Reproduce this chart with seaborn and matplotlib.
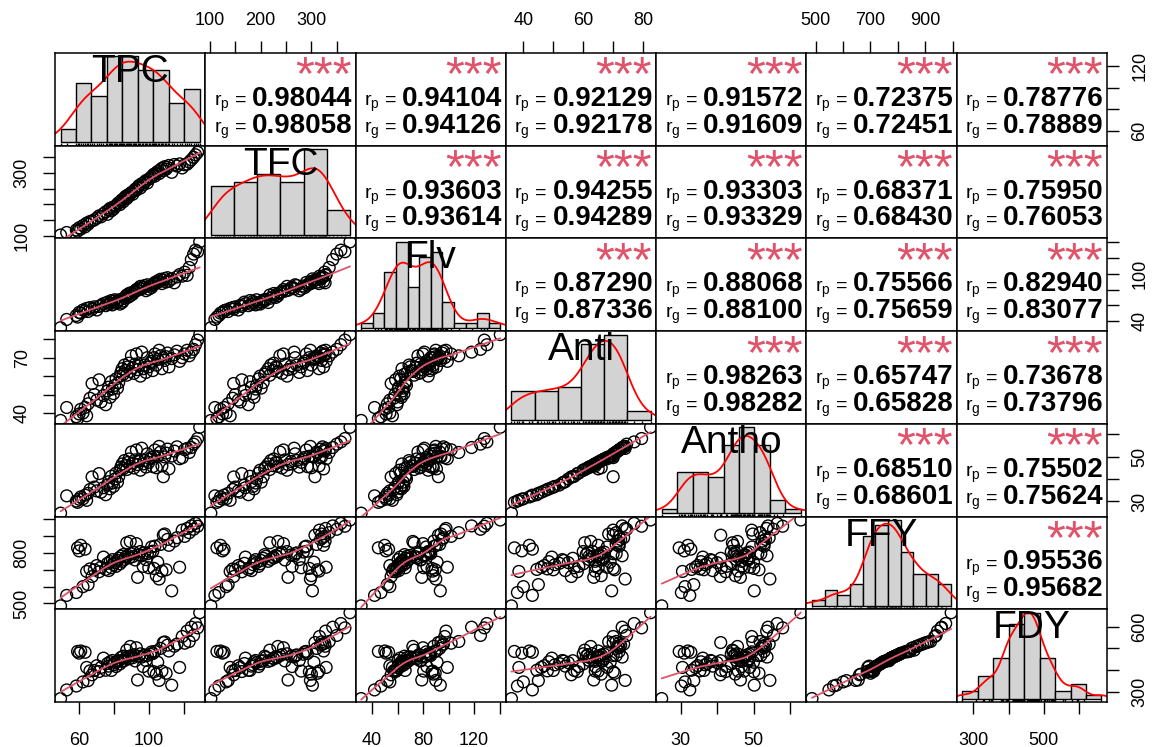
import numpy as np
import pandas as pd
import matplotlib
matplotlib.use("Agg")
import matplotlib.pyplot as plt
import seaborn as sns

variables = ["TPC", "TFC", "Flv", "Anti", "Antho", "FFY", "FDY"]

tpc = [49.5, 53.0, 58.5, 59.2, 60.1, 61.0, 62.3, 63.5, 64.4, 65.2,
       66.3, 67.5, 68.8, 70.2, 71.5, 72.6, 74.0, 75.3, 76.3, 77.0,
       77.8, 78.5, 79.1, 79.8, 80.5, 81.2, 82.0, 82.7, 83.4, 84.0,
       84.7, 85.3, 86.0, 86.6, 87.3, 88.0, 88.6, 89.3, 90.0, 90.7,
       91.4, 92.1, 92.8, 93.5, 94.3, 95.1, 95.9, 96.7, 97.5, 98.3,
       99.1, 99.9, 100.7, 101.5, 102.2, 102.8, 103.4, 104.2, 105.0, 105.8,
       106.6, 107.4, 108.2, 109.0, 109.8, 110.6, 111.4, 113.0, 114.5, 116.0,
       117.5, 119.0, 120.4, 121.8, 123.0, 124.2, 125.5, 126.6, 127.8, 129.0]
tfc = [102, 110, 118, 114, 125, 121, 132, 128, 140, 136,
       145, 147, 150, 156, 163, 160, 170, 176, 168, 182,
       187, 179, 190, 185, 192, 196, 201, 205, 199, 210,
       215, 208, 220, 225, 218, 230, 226, 234, 238, 232,
       242, 248, 245, 254, 260, 252, 266, 262, 271, 276,
       268, 280, 284, 287, 292, 296, 290, 300, 305, 298,
       310, 315, 307, 320, 312, 318, 324, 302, 327, 322,
       329, 316, 326, 328, 335, 342, 350, 358, 366, 376]
flv = [31.5, 42, 47, 45, 51, 50, 54, 53, 56, 52,
       57, 55, 58, 54, 58.5, 60, 62, 59.5, 64, 61,
       63, 66, 60.5, 65, 67, 62.5, 64.5, 66.5, 61.5, 67.5,
       63.5, 65.5, 69, 71, 73, 70, 75, 72, 76, 74,
       77, 78, 80, 79, 82, 84, 81, 83, 85, 78.5,
       86, 80.5, 84.5, 82.5, 85.5, 87, 89, 88, 91, 90,
       93, 87.5, 92, 94, 89.5, 95, 90.5, 93.5, 88.5, 96,
       99, 97, 102, 98, 108, 118, 125, 130, 128, 140.5]
anti = [36.0, 43, 38, 37, 39.5, 42, 40, 43, 38.5, 45,
        48, 56, 50, 47, 58, 46, 49.5, 44.5, 52, 54,
        48.5, 57, 53, 50.5, 55, 58.5, 53.5, 56.5, 60, 62,
        64, 61, 66, 63, 60.5, 65, 67, 62.5, 71, 64.5,
        61.5, 66.5, 72, 63.5, 65.5, 60, 73, 64, 66, 62,
        70, 65, 67, 68, 63, 70, 72, 66, 69, 74,
        71, 64, 70, 68.5, 70.5, 72.5, 65, 69.5, 71.5, 73.5,
        68, 70, 72, 74, 71, 73, 74.5, 77, 79.5, 82.5]
antho = [24.8, 32.5, 30.2, 29.6, 31.0, 32.0, 31.2, 32.8, 30.5, 33.6,
         35.3, 40.9, 36.4, 34.7, 42.4, 34.1, 36.1, 33.0, 37.3, 38.8,
         35.6, 41.2, 38.2, 36.7, 40.0, 42.6, 38.6, 41.0, 43.9, 45.3,
         46.7, 44.6, 48.2, 45.9, 44.2, 47.4, 48.9, 45.6, 52.0, 47.1,
         44.9, 48.5, 52.9, 46.4, 47.8, 43.9, 53.7, 46.7, 48.2, 45.3,
         51.2, 47.4, 48.9, 49.6, 45.5, 50.1, 52.9, 45.0, 50.0, 54.5,
         52.0, 45.8, 41.0, 49.8, 51.5, 53.3, 44.5, 50.2, 52.4, 54.3,
         49.0, 49.5, 53.0, 53.6, 51.8, 54.0, 55.5, 56.5, 58.0, 63.0]
ffy = [486, 548, 565, 830, 812, 845, 600, 822, 690, 612,
       705, 660, 700, 725, 688, 715, 775, 702, 738, 695,
       748, 712, 760, 730, 742, 720, 755, 768, 735, 780,
       750, 790, 762, 775, 860, 785, 770, 868, 795, 778,
       802, 758, 855, 655, 788, 808, 783, 720, 800, 760,
       795, 712, 805, 835, 810, 708, 840, 665, 745, 645,
       850, 692, 905, 912, 700, 880, 845, 575, 870, 890,
       715, 935, 898, 945, 920, 960, 940, 975, 958, 995]
fdy = [268, 308, 326, 486, 478, 488, 345, 482, 412, 351,
       396, 378, 398, 420, 393, 412, 455, 399, 430, 418,
       438, 398, 444, 424, 434, 416, 441, 443, 428, 458,
       440, 464, 444, 455, 492, 461, 452, 509, 467, 457,
       471, 442, 503, 354, 463, 475, 460, 416, 470, 444,
       467, 395, 473, 484, 476, 392, 486, 381, 436, 352,
       500, 395, 527, 530, 385, 515, 488, 330, 510, 520,
       412, 555, 524, 580, 532, 598, 560, 615, 595, 665]

# phenotypic / genotypic correlations, upper triangle row by row
rp_values = [0.98044, 0.94104, 0.92129, 0.91572, 0.72375, 0.78776,
             0.93603, 0.94255, 0.93303, 0.68371, 0.75950,
             0.87290, 0.88068, 0.75566, 0.82940,
             0.98263, 0.65747, 0.73678,
             0.68510, 0.75502,
             0.95536]
rg_values = [0.98058, 0.94126, 0.92178, 0.91609, 0.72451, 0.78889,
             0.93614, 0.94289, 0.93329, 0.68430, 0.76053,
             0.87336, 0.88100, 0.75659, 0.83077,
             0.98282, 0.65828, 0.73796,
             0.68601, 0.75624,
             0.95682]
signif = ["***"] * 21

ticks = {
    "TPC": [60, 80, 100, 120],
    "TFC": [100, 150, 200, 250, 300, 350],
    "Flv": [40, 60, 80, 100, 120, 140],
    "Anti": [40, 50, 60, 70, 80],
    "Antho": [30, 40, 50, 60],
    "FFY": [500, 600, 700, 800, 900, 1000],
    "FDY": [300, 400, 500, 600],
}
bottom_labels = {
    "TPC": ["60", "", "100", ""],
    "Flv": ["40", "", "80", "", "120", ""],
    "Antho": ["30", "", "50", ""],
    "FDY": ["300", "", "500", ""],
}
top_labels = {
    "TFC": ["100", "", "200", "", "300", ""],
    "Anti": ["40", "", "60", "", "80"],
    "FFY": ["500", "", "700", "", "900", ""],
}
left_labels = {
    "TFC": ["100", "", "", "", "300", ""],
    "Anti": ["40", "", "", "70", ""],
    "FFY": ["500", "", "", "800", "", ""],
}
right_labels = {
    "TPC": ["60", "", "", "120"],
    "Flv": ["40", "", "", "100", "", ""],
    "Antho": ["30", "", "50", ""],
    "FDY": ["300", "", "", "600"],
}
hist_bins = {"TPC": 9, "TFC": 6, "Flv": 12, "Anti": 6, "Antho": 9, "FFY": 11, "FDY": 9}

df = pd.DataFrame(dict(zip(variables, [tpc, tfc, flv, anti, antho, ffy, fdy])))

SMOOTH_COL = "#DF536B"


def lowess(x, y, f=2 / 3, iters=3):
    order = np.argsort(x)
    x = np.asarray(x, float)[order]
    y = np.asarray(y, float)[order]
    n = len(x)
    r = max(min(int(f * n + 1e-7), n), 2)
    h = np.array([np.sort(np.abs(x - x[i]))[r - 1] for i in range(n)])
    w = np.clip(np.abs(x[:, None] - x[None, :]) / h[None, :], 0, 1)
    w = (1 - w ** 3) ** 3
    yest = np.zeros(n)
    delta = np.ones(n)
    for _ in range(iters + 1):
        for i in range(n):
            wt = delta * w[:, i]
            A = np.array([[wt.sum(), (wt * x).sum()], [(wt * x).sum(), (wt * x * x).sum()]])
            b = np.array([(wt * y).sum(), (wt * y * x).sum()])
            beta = np.linalg.lstsq(A, b, rcond=None)[0]
            yest[i] = beta[0] + beta[1] * x[i]
        res = y - yest
        s = np.median(np.abs(res))
        delta = np.clip(res / (6 * s), -1, 1)
        delta = (1 - delta ** 2) ** 2
    return x, yest


def padded(v):
    lo, hi = df[v].min(), df[v].max()
    d = (hi - lo) * 0.04
    return lo - d, hi + d


sns.set_style("white")
plt.rcParams["font.family"] = ["Liberation Sans", "DejaVu Sans"]
plt.rcParams["axes.linewidth"] = 1.1
plt.rcParams["axes.edgecolor"] = "black"
plt.rcParams["text.color"] = "black"
plt.rcParams["xtick.color"] = "black"
plt.rcParams["ytick.color"] = "black"

n = len(variables)
fig, axes = plt.subplots(n, n, figsize=(11.64, 7.47), dpi=100,
                         gridspec_kw=dict(wspace=0, hspace=0))
fig.subplots_adjust(left=55 / 1164, right=1107 / 1164, bottom=1 - 702 / 747, top=1 - 53 / 747)

tick_kw = dict(length=8.5, width=1.0, color="black", labelcolor="black", labelsize=13)

k = 0
for i, vy in enumerate(variables):
    for j, vx in enumerate(variables):
        ax = axes[i, j]
        twin = None
        if i == j and j == n - 1:
            twin = ax.twinx()
        ax.tick_params(which="both", left=False, right=False, top=False, bottom=False,
                       labelleft=False, labelright=False, labeltop=False, labelbottom=False)

        if i > j:
            sns.scatterplot(x=df[vx], y=df[vy], ax=ax, marker="o", s=72,
                            color="none", edgecolor="black", linewidth=1.0, legend=False)
            lx, ly = lowess(df[vx].values, df[vy].values)
            ax.plot(lx, ly, color=SMOOTH_COL, lw=1.3)
            ax.set_xlim(padded(vx))
            ax.set_ylim(padded(vy))
        elif i == j:
            edges = np.linspace(df[vx].min(), df[vx].max(), hist_bins[vx] + 1)
            dens, _ = np.histogram(df[vx], bins=edges, density=True)
            sns.histplot(x=df[vx], bins=edges, stat="density", ax=ax, color="#D3D3D3",
                         edgecolor="black", linewidth=1.0, alpha=1)
            sd = df[vx].std()
            iqr = df[vx].quantile(0.75) - df[vx].quantile(0.25)
            adj = 0.9 * min(sd, iqr / 1.34) / sd
            sns.kdeplot(x=df[vx], ax=ax, color="red", lw=1.3, bw_adjust=adj, cut=3)
            sns.rugplot(x=df[vx], ax=ax, height=0.03, color="black", lw=0.6)
            top = dens.max()
            ax.set_xlim(padded(vx))
            ax.set_ylim(-0.04 * top, 1.04 * top)
            ax.text(0.5, 0.685, vx, transform=ax.transAxes, ha="center", va="baseline",
                    fontsize=28)
        else:
            ax.set_xlim(padded(vx))
            ax.set_ylim(padded(vy))
            ax.text(0.975, 0.985, signif[k], transform=ax.transAxes, ha="right", va="top",
                    fontsize=35, color=SMOOTH_COL)
            ax.text(0.31, 0.43, f"{rp_values[k]:.5f}", transform=ax.transAxes,
                    ha="left", va="baseline", fontsize=20, fontweight="bold")
            ax.text(0.275, 0.43, r"r$_\mathregular{p}$ =", transform=ax.transAxes,
                    ha="right", va="baseline", fontsize=14)
            ax.text(0.31, 0.14, f"{rg_values[k]:.5f}", transform=ax.transAxes,
                    ha="left", va="baseline", fontsize=20, fontweight="bold")
            ax.text(0.275, 0.14, r"r$_\mathregular{g}$ =", transform=ax.transAxes,
                    ha="right", va="baseline", fontsize=14)
            k += 1

        ax.set_xlabel("")
        ax.set_ylabel("")
        for sp in ax.spines.values():
            sp.set_visible(True)
            sp.set_color("black")
            sp.set_linewidth(1.1)

        # outer axes, alternating like R's pairs()
        if i == 0 and j % 2 == 1:
            ax.set_xticks(ticks[vx])
            ax.set_xticklabels(top_labels[vx])
            ax.tick_params(axis="x", top=True, labeltop=True, pad=9, **tick_kw)
        if i == n - 1 and j % 2 == 0:
            ax.set_xticks(ticks[vx])
            ax.set_xticklabels(bottom_labels[vx])
            ax.tick_params(axis="x", bottom=True, labelbottom=True, pad=13, **tick_kw)
        if j == 0 and i % 2 == 1:
            ax.set_yticks(ticks[vy])
            ax.set_yticklabels(left_labels[vy], rotation=90, va="center")
            ax.tick_params(axis="y", left=True, labelleft=True, pad=9, **tick_kw)
        if j == n - 1 and i % 2 == 0:
            tax = twin if twin is not None else ax
            if twin is not None:
                twin.set_ylim(padded(vy))
                twin.set_ylabel("")
                for sp in twin.spines.values():
                    sp.set_visible(False)
            tax.set_yticks(ticks[vy])
            tax.set_yticklabels(right_labels[vy], rotation=90, va="center")
            tax.tick_params(axis="y", right=True, labelright=True, left=False, labelleft=False,
                            pad=9, **tick_kw)

fig.savefig("out.png", dpi=100)
